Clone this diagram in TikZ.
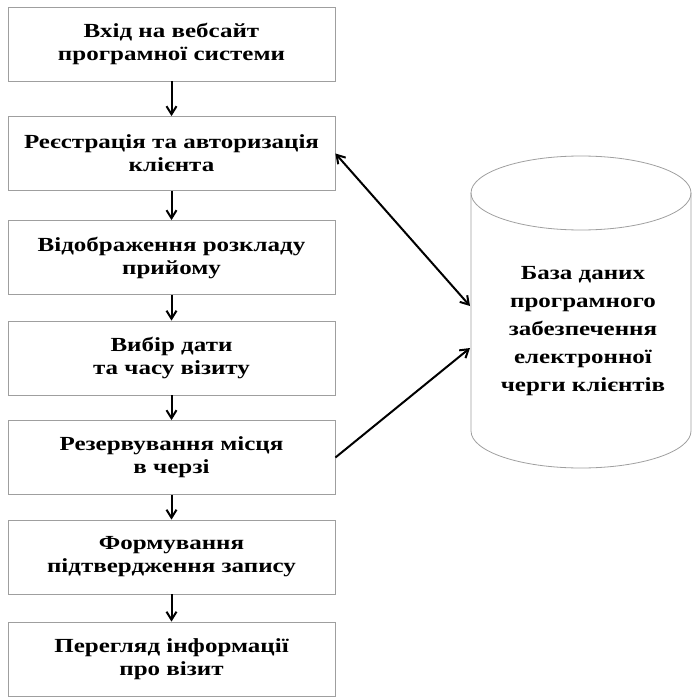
\documentclass[tikz,border=0pt]{standalone}
\usepackage{fontspec}
\setmainfont{Liberation Serif}[FakeStretch=1.25]
\usetikzlibrary{arrows.meta}

\tikzset{
  stepbox/.style={draw=gray!75, thin, minimum width=163.5pt, minimum height=37pt,
    inner sep=0pt, align=center, font=\fontsize{10}{11.5}\selectfont\bfseries},
  dbtext/.style={align=center, inner sep=0pt, font=\fontsize{10}{14}\selectfont\bfseries},
  dbline/.style={draw=gray!75, thin},
  flow/.style={->, line width=1pt},
}

\begin{document}
\begin{tikzpicture}[x=0.5pt, y=-0.5pt, >={Straight Barb[length=4pt, width=5pt]}]
    \useasboundingbox (0,0) rectangle (692,700);

    % steps on the left
    \node[stepbox] (login)   at (171.5,44)    {Вхід на вебсайт\\програмної системи};
    \node[stepbox] (auth)    at (171.5,153.5) {Реєстрація та авторизація\\клієнта};
    \node[stepbox] (sched)   at (171.5,257.5) {Відображення розкладу\\прийому};
    \node[stepbox] (pick)    at (171.5,358)   {Вибір дати\\та часу візиту};
    \node[stepbox] (reserve) at (171.5,457.5) {Резервування місця\\в черзі};
    \node[stepbox] (confirm) at (171.5,557)   {Формування\\підтвердження запису};
    \node[stepbox] (view)    at (171.5,659)   {Перегляд інформації\\про візит};

    \draw[flow] (login)   -- (auth);
    \draw[flow] (auth)    -- (sched);
    \draw[flow] (sched)   -- (pick);
    \draw[flow] (pick)    -- (reserve);
    \draw[flow] (reserve) -- (confirm);
    \draw[flow] (confirm) -- (view);

    % database
    \draw[dbline] (471,193) -- (471,431)
      arc[start angle=180, end angle=360, x radius=55pt, y radius=18.5pt] -- (691,193);
    \draw[dbline] (581,193) ellipse[x radius=55pt, y radius=18.5pt];
    \node[dbtext] (db) at (583,331)
      {База даних\\програмного\\забезпечення\\електронної\\черги клієнтів};

    \coordinate (dbin1) at (470,306);
    \coordinate (dbin2) at (470,348);
    \draw[flow, <->] (auth.east) -- (dbin1);
    \draw[flow] (reserve.east) -- (dbin2);
  \end{tikzpicture}
\end{document}
